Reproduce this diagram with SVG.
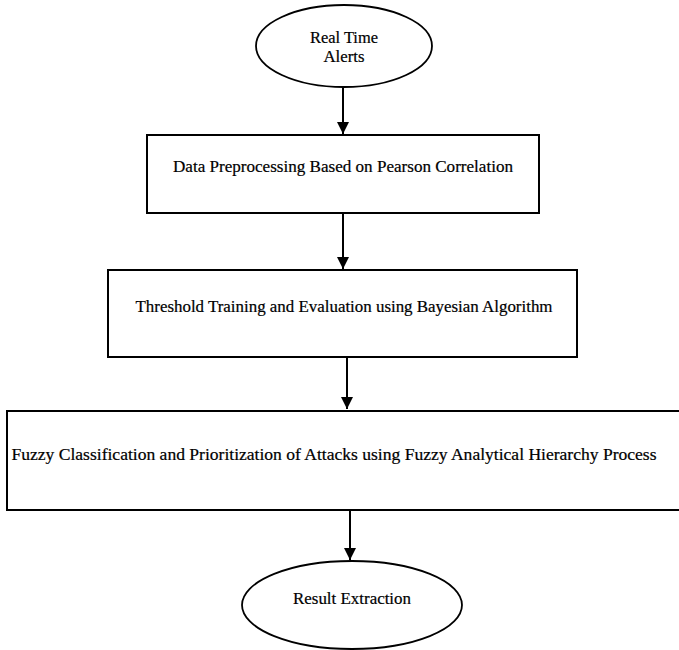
<svg xmlns="http://www.w3.org/2000/svg" width="679" height="650" viewBox="0 0 679 650">
<style>
.n{fill:#fff;stroke:#000;stroke-width:2}
.e{fill:#fff;stroke:#000;stroke-width:1.8}
.t{font-family:"Liberation Serif",serif;font-size:16px;fill:#000;text-anchor:middle;stroke:#000;stroke-width:0.2}
.c{stroke:#000;stroke-width:2;fill:none}
</style>
<defs>
<marker id="ah" markerWidth="12" markerHeight="12" refX="12" refY="6" orient="auto" markerUnits="userSpaceOnUse">
<path d="M0,0 L12,6 L0,12 Z" fill="#000"/>
</marker>
</defs>
<rect width="679" height="650" fill="#fff"/>
<g id="connectors">
<line class="c" x1="343" y1="87" x2="343" y2="134" marker-end="url(#ah)"/>
<line class="c" x1="343" y1="214" x2="343" y2="269" marker-end="url(#ah)"/>
<line class="c" x1="347" y1="358" x2="347" y2="409" marker-end="url(#ah)"/>
<line class="c" x1="350" y1="511" x2="350" y2="560" marker-end="url(#ah)"/>
</g>
<g id="real-time-alerts">
<ellipse class="e" cx="344" cy="46" rx="88" ry="41"/>
<text class="t" x="344" y="43" textLength="68" lengthAdjust="spacingAndGlyphs">Real Time</text>
<text class="t" x="344" y="62" textLength="41" lengthAdjust="spacingAndGlyphs">Alerts</text>
</g>
<g id="preprocessing">
<rect class="n" x="147" y="135" width="392" height="78"/>
<text class="t" x="343" y="172" textLength="340" lengthAdjust="spacingAndGlyphs">Data Preprocessing Based on Pearson Correlation</text>
</g>
<g id="threshold-training">
<rect class="n" x="108" y="270" width="469" height="87"/>
<text class="t" x="344" y="312" textLength="417" lengthAdjust="spacingAndGlyphs">Threshold Training and Evaluation using Bayesian Algorithm</text>
</g>
<g id="fuzzy-classification">
<rect class="n" x="7" y="411" width="680" height="99"/>
<text class="t" x="334" y="460" textLength="645" lengthAdjust="spacingAndGlyphs">Fuzzy Classification and Prioritization of Attacks using Fuzzy Analytical Hierarchy Process</text>
</g>
<g id="result-extraction">
<ellipse class="e" cx="352" cy="605" rx="110" ry="44"/>
<text class="t" x="352" y="604" textLength="118" lengthAdjust="spacingAndGlyphs">Result Extraction</text>
</g>
</svg>
